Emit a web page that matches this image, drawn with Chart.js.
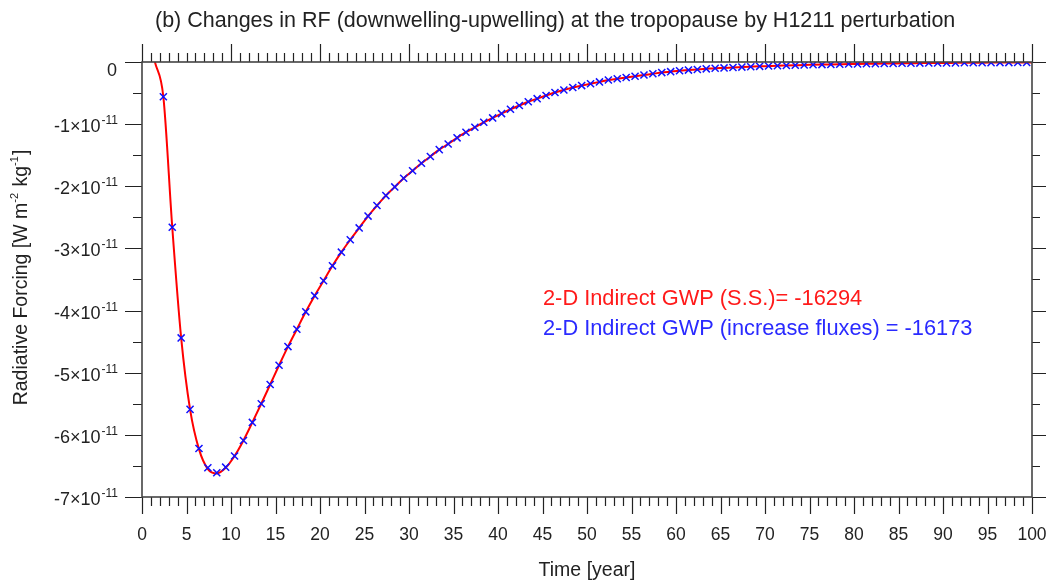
<!DOCTYPE html>
<html>
<head>
<meta charset="utf-8">
<script src="https://cdn.jsdelivr.net/npm/chart.js@4.4.1/dist/chart.umd.min.js"></script>
<style>
html,body{margin:0;padding:0;background:#fff;}
#wrap{width:1046px;height:581px;position:relative;}
</style>
</head>
<body>
<div id="wrap"><canvas id="c" width="1046" height="581"></canvas></div>
<script>
// ---- data (values in units of 1e-11 W m^-2 kg^-1) ----
const titleText = "(b) Changes in RF (downwelling-upwelling) at the tropopause by H1211 perturbation";
const xTickLabels = ["0","5","10","15","20","25","30","35","40","45","50","55","60","65","70","75","80","85","90","95","100"];
const yTickValues = [0,-1,-2,-3,-4,-5,-6,-7];
const yTickLabels = ["0","-1\u00d710","-2\u00d710","-3\u00d710","-4\u00d710","-5\u00d710","-6\u00d710","-7\u00d710"];
const annotationSS = "2-D Indirect GWP (S.S.)= -16294";
const annotationFlux = "2-D Indirect GWP (increase fluxes) = -16173";

const fluxYears = [2.4,3.4,4.4,5.4,6.4,7.4,8.4,9.4,10.4,11.4,12.4,13.4,14.4,15.4,16.4,17.4,18.4,19.4,20.4,21.4,
  22.4,23.4,24.4,25.4,26.4,27.4,28.4,29.4,30.4,31.4,32.4,33.4,34.4,35.4,36.4,37.4,38.4,39.4,40.4,41.4,
  42.4,43.4,44.4,45.4,46.4,47.4,48.4,49.4,50.4,51.4,52.4,53.4,54.4,55.4,56.4,57.4,58.4,59.4,60.4,61.4,
  62.4,63.4,64.4,65.4,66.4,67.4,68.4,69.4,70.4,71.4,72.4,73.4,74.4,75.4,76.4,77.4,78.4,79.4,80.4,81.4,
  82.4,83.4,84.4,85.4,86.4,87.4,88.4,89.4,90.4,91.4,92.4,93.4,94.4,95.4,96.4,97.4,98.4,99.4];
const fluxValues = [-0.56,-2.66,-4.44,-5.59,-6.22,-6.53,-6.61,-6.52,-6.34,-6.09,-5.80,-5.50,-5.19,-4.88,-4.58,-4.30,-4.02,-3.76,-3.52,-3.28,
  -3.06,-2.86,-2.67,-2.48,-2.31,-2.15,-2.01,-1.87,-1.75,-1.63,-1.52,-1.41,-1.32,-1.22,-1.13,-1.05,-0.97,-0.90,-0.83,-0.76,
  -0.70,-0.64,-0.59,-0.54,-0.49,-0.45,-0.41,-0.38,-0.35,-0.32,-0.29,-0.27,-0.25,-0.23,-0.21,-0.19,-0.17,-0.155,-0.14,-0.13,
  -0.12,-0.11,-0.10,-0.095,-0.088,-0.082,-0.076,-0.07,-0.065,-0.06,-0.056,-0.052,-0.048,-0.045,-0.042,-0.039,-0.036,-0.033,-0.031,-0.029,
  -0.027,-0.025,-0.023,-0.021,-0.02,-0.018,-0.017,-0.016,-0.015,-0.014,-0.013,-0.012,-0.011,-0.01,-0.009,-0.009,-0.008,-0.007];

const ssYears = [1.45,2.4,3.4,4.4,5.4,6.4,7.4,8.4,9.4,10.4,11.4,12.4,13.4,14.4,15.4,16.4,17.4,18.4,19.4,20.4,21.4,
  22.4,23.4,24.4,25.4,26.4,27.4,28.4,29.4,30.4,31.4,32.4,33.4,34.4,35.4,36.4,37.4,38.4,39.4,40.4,41.4,
  42.4,43.4,44.4,45.4,46.4,47.4,48.4,49.4,50.4,51.4,52.4,53.4,54.4,55.4,56.4,57.4,58.4,59.4,60.4,61.4,
  62.4,63.4,64.4,65.4,66.4,67.4,68.4,69.4,70.4,71.4,72.4,73.4,74.4,75.4,76.4,77.4,78.4,79.4,80.4,81.4,
  82.4,83.4,84.4,85.4,86.4,87.4,88.4,89.4,90.4,91.4,92.4,93.4,94.4,95.4,96.4,97.4,98.4,99.4,100];
const ssValues = [0,-0.56,-2.66,-4.44,-5.59,-6.23,-6.55,-6.62,-6.53,-6.34,-6.09,-5.80,-5.50,-5.19,-4.88,-4.58,-4.30,-4.02,-3.76,-3.52,-3.28,
  -3.06,-2.86,-2.67,-2.48,-2.31,-2.15,-2.01,-1.87,-1.75,-1.63,-1.52,-1.41,-1.32,-1.22,-1.13,-1.05,-0.97,-0.90,-0.83,-0.76,
  -0.70,-0.64,-0.59,-0.54,-0.49,-0.45,-0.41,-0.38,-0.35,-0.32,-0.29,-0.27,-0.25,-0.23,-0.21,-0.19,-0.17,-0.155,-0.14,-0.13,
  -0.12,-0.11,-0.10,-0.095,-0.088,-0.082,-0.076,-0.07,-0.065,-0.06,-0.056,-0.052,-0.048,-0.045,-0.042,-0.039,-0.036,-0.033,-0.031,-0.029,
  -0.027,-0.025,-0.023,-0.021,-0.02,-0.018,-0.017,-0.016,-0.015,-0.014,-0.013,-0.012,-0.011,-0.01,-0.009,-0.009,-0.008,-0.007,-0.007];

const SCALE = 1e-11;
const FONT = "'Liberation Sans', Arial, Helvetica, sans-serif";

function toPoints(xs, ys){ return xs.map((x,i)=>({x:x, y:ys[i]*SCALE})); }

const decor = {
  id:'decor',
  afterDraw(chart){
    const ctx = chart.ctx, xs = chart.scales.x, ys = chart.scales.y, a = chart.chartArea;
    ctx.save();
    // ticks
    ctx.strokeStyle = '#222'; ctx.lineWidth = 1.2;
    ctx.beginPath();
    for(let t=0;t<=100;t++){
      const px = Math.round(xs.getPixelForValue(t))+0.5;
      const bl = (t%5===0)?17:9;
      ctx.moveTo(px,a.bottom); ctx.lineTo(px,a.bottom+bl);
      const tl = (t%10===0)?18:9;
      ctx.moveTo(px,a.top); ctx.lineTo(px,a.top-tl);
    }
    for(let k=0;k<=14;k++){
      const v = -k*0.5*SCALE;
      const py = Math.round(ys.getPixelForValue(v))+0.5;
      const ll = (k%2===0)?17:9;
      ctx.moveTo(a.left,py); ctx.lineTo(a.left-ll,py);
      const rl = (k%2===0)?14:8;
      ctx.moveTo(a.right,py); ctx.lineTo(a.right+rl,py);
    }
    ctx.stroke();
    // frame
    ctx.strokeStyle = '#444'; ctx.lineWidth = 1.6;
    ctx.strokeRect(a.left, a.top, a.right-a.left, a.bottom-a.top);

    ctx.fillStyle = '#222';
    // title
    ctx.font = "21.5px " + FONT;
    ctx.textAlign = 'left'; ctx.textBaseline = 'alphabetic';
    ctx.fillText(titleText, 155, 27);

    // x tick labels
    ctx.font = "17.5px " + FONT;
    ctx.textAlign = 'center';
    xTickLabels.forEach(l=>{
      const px = xs.getPixelForValue(parseFloat(l));
      ctx.fillText(l, px, 540);
    });
    // x title
    ctx.font = "19.5px " + FONT;
    ctx.fillText("Time [year]", (a.left+a.right)/2, 576);

    // y tick labels
    yTickValues.forEach((v,i)=>{
      const py = ys.getPixelForValue(v*SCALE);
      const label = yTickLabels[i];
      if(v===0){
        ctx.font = "18px " + FONT; ctx.textAlign='center';
        ctx.fillText(label, 112, py+14);
        return;
      }
      ctx.font = "12px " + FONT;
      const supW = ctx.measureText("-11").width;
      ctx.textAlign='left';
      const right = 118;
      ctx.fillText("-11", right - supW, py);
      ctx.font = "18px " + FONT;
      ctx.textAlign='right';
      ctx.fillText(label, right - supW - 1, py+8);
    });

    // y title (rotated, with superscripts)
    ctx.save();
    ctx.translate(27, (a.top+a.bottom)/2 - 2);
    ctx.rotate(-Math.PI/2);
    const parts = [["Radiative Forcing [W m",false],["-2",true],[" kg",false],["-1",true],["]",false]];
    let total = 0;
    parts.forEach(p=>{ ctx.font = (p[1]?"11px ":"19.5px ")+FONT; total += ctx.measureText(p[0]).width + (p[1]?1:0); });
    let x0 = -total/2;
    ctx.textAlign='left';
    parts.forEach(p=>{
      ctx.font = (p[1]?"11px ":"19.5px ")+FONT;
      ctx.fillText(p[0], x0, p[1]?-9:0);
      x0 += ctx.measureText(p[0]).width + (p[1]?1:0);
    });
    ctx.restore();

    // annotations
    ctx.font = "21.8px " + FONT; ctx.textAlign='left';
    ctx.fillStyle = '#ff1a1a';
    ctx.fillText(annotationSS, 543, 305);
    ctx.fillStyle = '#2a2aff';
    ctx.fillText(annotationFlux, 543, 335);
    ctx.restore();
  }
};

new Chart(document.getElementById('c'), {
  type:'line',
  data:{
    datasets:[
      {
        label:'increase fluxes',
        data: toPoints(fluxYears, fluxValues),
        showLine:false,
        pointStyle:'crossRot',
        pointRadius:5,
        pointBorderWidth:1.5,
        borderColor:'#1010ff',
        backgroundColor:'#1010ff'
      },
      {
        label:'S.S.',
        data: toPoints(ssYears, ssValues),
        borderColor:'#ff0000',
        borderWidth:2,
        pointRadius:0,
        cubicInterpolationMode:'monotone',
        fill:false
      }
    ]
  },
  options:{
    responsive:false,
    animation:false,
    devicePixelRatio:1,
    layout:{padding:{left:142,right:14,top:62,bottom:84}},
    plugins:{legend:{display:false},tooltip:{enabled:false},title:{display:false}},
    scales:{
      x:{type:'linear',min:0,max:100,display:false},
      y:{type:'linear',min:-7e-11,max:0,display:false}
    }
  },
  plugins:[decor]
});
</script>
</body>
</html>
